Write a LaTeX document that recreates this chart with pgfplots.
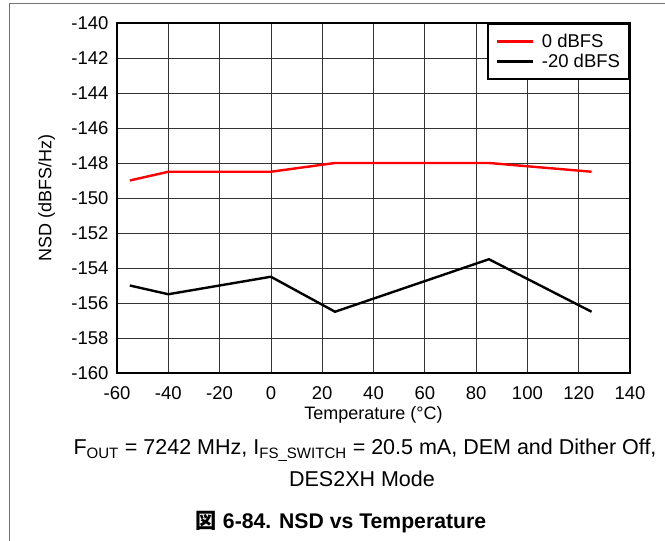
\documentclass[border=0pt]{standalone}
\usepackage{fontspec}
\setmainfont{Liberation Sans}
\newfontfamily\cjk{Noto Sans CJK JP}
\usepackage{pgfplots}
\pgfplotsset{compat=1.18}

\begin{document}
\begin{tikzpicture}[x=1bp,y=1bp]
\useasboundingbox (0,0) rectangle (665,541);
% page frame
\draw[black!55, line width=1bp] (9,0) -- (9,537) -- (665,537);

\begin{axis}[
    at={(117bp,168bp)}, anchor=south west,
    scale only axis, width=513bp, height=350bp,
    xmin=-60, xmax=140, ymin=-160, ymax=-140,
    xtick distance=20, ytick distance=2,
    grid=major,
    major grid style={black!80, line width=0.8bp},
    axis line style={line width=2.2bp},
    tick style={draw=none},
    tick label style={font=\fontsize{18.5bp}{20bp}\selectfont},
    xticklabel style={yshift=-10bp},
    yticklabel style={xshift=-5bp},
    /pgf/number format/assume math mode=true,
    xlabel={Temperature (°C)},
    ylabel={NSD (dBFS/Hz)},
    label style={font=\fontsize{18bp}{20bp}\selectfont},
    xlabel style={at={(axis description cs:0.5,-0.119)}, anchor=center},
    ylabel style={at={(axis description cs:-0.137,0.5)}, anchor=center},
    legend style={at={(1,1)}, anchor=north east, draw=black, line width=2bp,
        font=\fontsize{18.5bp}{20bp}\selectfont, inner xsep=7bp, inner ysep=8bp,
        row sep=1bp,
        /tikz/every odd column/.append style={column sep=6bp}},
    legend cell align=left,
    legend image code/.code={\draw[#1, line width=2.4bp] (0bp,0bp) -- (36bp,0bp);},
]
\addplot[red, line width=2.4bp] coordinates {
    (-55,-149) (-40,-148.5) (0,-148.5) (25,-148) (85,-148) (125,-148.5)};
\addlegendentry{0 dBFS}
\addplot[black, line width=2.4bp] coordinates {
    (-55,-155) (-40,-155.5) (0,-154.5) (25,-156.5) (85,-153.5) (125,-156.5)};
\addlegendentry{-20 dBFS}
\end{axis}

\node[anchor=base, font=\fontsize{21.5bp}{24bp}\selectfont] at (365,86)
    {F\textsubscript{OUT} = 7242 MHz, I\textsubscript{FS\_SWITCH} = 20.5 mA, DEM and Dither Off,};
\node[anchor=base, font=\fontsize{21.5bp}{24bp}\selectfont] at (362,54) {DES2XH Mode};
\node[anchor=base, font=\bfseries\fontsize{21.2bp}{23bp}\selectfont] at (341,12)
    {{\cjk 図} 6-84. NSD vs Temperature};
\end{tikzpicture}
\end{document}
